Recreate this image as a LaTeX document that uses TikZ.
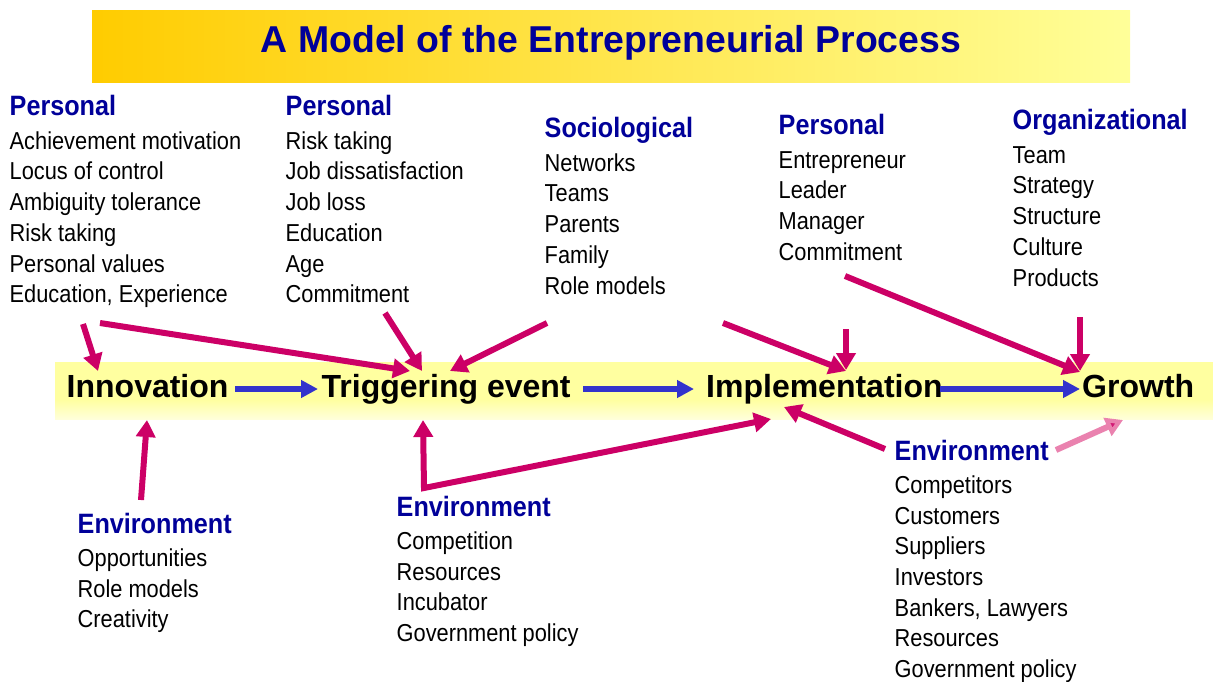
\documentclass[tikz,border=0pt]{standalone}
\usepackage{fontspec}
\setmainfont{Liberation Sans}
\newfontfamily\bodyf[FakeStretch=0.89]{Liberation Sans}
\newfontfamily\headf[FakeStretch=0.90]{Liberation Sans}
\usetikzlibrary{arrows.meta}
\definecolor{hdblue}{RGB}{0,0,153}
\definecolor{arrblue}{RGB}{51,51,204}
\definecolor{mag}{RGB}{204,0,102}
\definecolor{pinkl}{RGB}{234,130,175}
\definecolor{titleL}{RGB}{255,204,0}
\definecolor{titleR}{RGB}{255,255,153}
\definecolor{bandY}{RGB}{255,255,160}
\definecolor{bandLow}{RGB}{255,255,218}
\pgfdeclareverticalshading{bandshade}{100bp}{color(0bp)=(bandLow); color(25bp)=(bandLow); color(42bp)=(bandY); color(100bp)=(bandY)}
\newcommand{\hdline}[1]{{\headf\bfseries\fontsize{28}{30.7}\selectfont\color{hdblue}#1}}
\tikzset{
  txtblock/.style={anchor=base west, inner sep=0pt, font=\bodyf\fontsize{24.5}{30.7}\selectfont},
  stage/.style={anchor=base west, inner sep=0pt, font=\bfseries\fontsize{32}{36}\selectfont},
  magarrow/.style={draw=mag, line width=6pt, -{Triangle[length=17pt,width=19pt]}},
  pinkarrow/.style={draw=pinkl, line width=6pt, -{Triangle[length=17pt,width=19pt,fill=mag!80!pinkl]}},
  bluearrow/.style={draw=arrblue, line width=5.3pt, -{Triangle[length=17pt,width=17pt]}},
}
\begin{document}
\begin{tikzpicture}[x=1pt,y=-1pt]
\useasboundingbox (0,0) rectangle (1213,682);
% title
\node[minimum width=1038pt, minimum height=72pt, inner sep=0pt, left color=titleL, right color=titleR] (bar) at (611,47) {};
\node[anchor=base, inner sep=0pt, text=hdblue, font=\bfseries\fontsize{37.4}{44}\selectfont] (title) at (611,52.7) {A Model of the Entrepreneurial Process};
% band
\node[shading=bandshade, minimum width=1158pt, minimum height=57pt, inner sep=0pt] (band) at (634,390.5) {};
% stage labels
\node[stage] (innov) at (66.5,397) {Innovation};
\node[stage] (trig) at (321.5,397) {Triggering event};
\node[stage] (impl) at (706,397) {Implementation};
\node[stage] (grow) at (1082,397) {Growth};
% text blocks
\node[txtblock] (p1) at (9.5,116) {\begin{tabular}[t]{@{}l@{}}\hdline{Personal}\\[2.6pt] Achievement motivation\\ Locus of control\\ Ambiguity tolerance\\ Risk taking\\ Personal values\\ Education, Experience\end{tabular}};
\node[txtblock] (p2) at (285.5,116) {\begin{tabular}[t]{@{}l@{}}\hdline{Personal}\\[2.6pt] Risk taking\\ Job dissatisfaction\\ Job loss\\ Education\\ Age\\ Commitment\end{tabular}};
\node[txtblock] (soc) at (544.5,138) {\begin{tabular}[t]{@{}l@{}}\hdline{Sociological}\\[2.6pt] Networks\\ Teams\\ Parents\\ Family\\ Role models\end{tabular}};
\node[txtblock] (p3) at (778.5,135) {\begin{tabular}[t]{@{}l@{}}\hdline{Personal}\\[2.6pt] Entrepreneur\\ Leader\\ Manager\\ Commitment\end{tabular}};
\node[txtblock] (org) at (1012.5,130) {\begin{tabular}[t]{@{}l@{}}\hdline{Organizational}\\[2.6pt] Team\\ Strategy\\ Structure\\ Culture\\ Products\end{tabular}};
\node[txtblock] (env1) at (77.5,533) {\begin{tabular}[t]{@{}l@{}}\hdline{Environment}\\[2.6pt] Opportunities\\ Role models\\ Creativity\end{tabular}};
\node[txtblock] (env2) at (396.5,516) {\begin{tabular}[t]{@{}l@{}}\hdline{Environment}\\[2.6pt] Competition\\ Resources\\ Incubator\\ Government policy\end{tabular}};
\node[txtblock] (env3) at (894.5,460) {\begin{tabular}[t]{@{}l@{}}\hdline{Environment}\\[2.6pt] Competitors\\ Customers\\ Suppliers\\ Investors\\ Bankers, Lawyers\\ Resources\\ Government policy\end{tabular}};
% connector end points
\coordinate (a1s) at (83,324);   \coordinate (a1e) at (98,371);
\coordinate (a2s) at (100,323);  \coordinate (a2e) at (410,371);
\coordinate (a3s) at (385,313);  \coordinate (a3e) at (422,371);
\coordinate (a4s) at (547,323);  \coordinate (a4e) at (450,371);
\coordinate (a5s) at (723,323);  \coordinate (a5e) at (846,371);
\coordinate (a6s) at (846,329);  \coordinate (a6e) at (846,370);
\coordinate (a7s) at (845,276);  \coordinate (a7e) at (1080,372);
\coordinate (a8s) at (1080,317); \coordinate (a8e) at (1080,371);
\coordinate (a9s) at (141,500);  \coordinate (a9e) at (147,420);
\coordinate (a10t) at (423,420); \coordinate (a10c) at (424,488); \coordinate (a10e) at (771,419);
\coordinate (a11s) at (885,449); \coordinate (a11e) at (784,407);
\coordinate (a12s) at (1056,450); \coordinate (a12e) at (1123,420);
\coordinate (b1s) at (235,389); \coordinate (b1e) at (318,389);
\coordinate (b2s) at (583,389); \coordinate (b2e) at (694,389);
\coordinate (b3s) at (940,389); \coordinate (b3e) at (1080,389);
% blue flow arrows
\draw[bluearrow] (b1s) -- (b1e);
\draw[bluearrow] (b2s) -- (b2e);
\draw[bluearrow] (b3s) -- (b3e);
% magenta influence arrows
\draw[magarrow] (a1s) -- (a1e);
\draw[magarrow] (a2s) -- (a2e);
\draw[magarrow] (a3s) -- (a3e);
\draw[magarrow] (a4s) -- (a4e);
\draw[magarrow] (a5s) -- (a5e);
\draw[magarrow] (a6s) -- (a6e);
\draw[magarrow] (a7s) -- (a7e);
\draw[magarrow] (a8s) -- (a8e);
\draw[magarrow] (a9s) -- (a9e);
\draw[magarrow, {Triangle[length=17pt,width=19pt]}-{Triangle[length=17pt,width=19pt]}, line join=miter] (a10t) -- (a10c) -- (a10e);
\draw[magarrow] (a11s) -- (a11e);
\draw[pinkarrow] (a12s) -- (a12e);
\end{tikzpicture}
\end{document}
